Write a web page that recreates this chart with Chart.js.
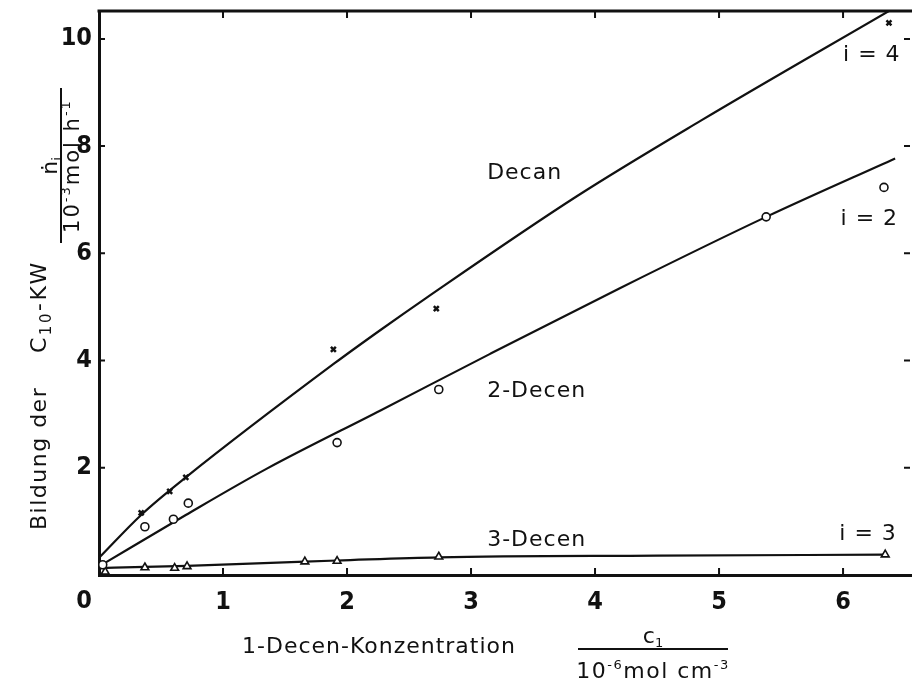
<!DOCTYPE html>
<html>
<head>
<meta charset="utf-8">
<script src="https://cdn.jsdelivr.net/npm/chart.js@4.4.1/dist/chart.umd.min.js"></script>
<style>
  html, body { margin: 0; padding: 0; background: #fff; }
</style>
</head>
<body>
<canvas id="chart" width="912" height="683"></canvas>
<script>
// measured points (x: 1-decene concentration, y: formation rate)
const decanX = [0.34, 0.57, 0.70, 1.89, 2.72, 6.37];
const decanY = [1.16, 1.56, 1.82, 4.21, 4.97, 10.3];
const decen2X = [0.03, 0.37, 0.60, 0.72, 1.92, 2.74, 5.38, 6.33];
const decen2Y = [0.19, 0.90, 1.04, 1.34, 2.47, 3.46, 6.68, 7.23];
const decen3X = [0.05, 0.37, 0.61, 0.71, 1.66, 1.92, 2.74, 6.34];
const decen3Y = [0.06, 0.14, 0.13, 0.16, 0.25, 0.26, 0.34, 0.38];

// hand-drawn fit curves
const decanFitX = [0, 0.34, 0.7, 1.9, 2.27, 2.64, 3.85, 4.85, 6.4];
const decanFitY = [0.32, 1.12, 1.82, 3.95, 4.57, 5.17, 7.06, 8.47, 10.56];
const decen2FitX = [0, 0.7, 1.35, 2.27, 3.15, 4.2, 5.38, 6.42];
const decen2FitY = [0.16, 1.12, 1.98, 3.07, 4.12, 5.35, 6.68, 7.77];
const decen3FitX = [0, 0.37, 0.71, 1.66, 1.92, 2.74, 4.5, 6.34];
const decen3FitY = [0.13, 0.15, 0.17, 0.25, 0.27, 0.33, 0.36, 0.38];

const xTicks = [1, 2, 3, 4, 5, 6];
const yTicks = [2, 4, 6, 8, 10];

const curveNames = ['Decan', '2-Decen', '3-Decen'];
const curveNameAt = [[3.13, 7.49], [3.13, 3.43], [3.13, 0.65]];
const indexNames = ['i = 4', 'i = 2', 'i = 3'];
const indexNameAt = [[6.0, 9.69], [5.98, 6.63], [5.97, 0.76]];

const ink = '#111';
const narrow = '"Liberation Sans Narrow", "DejaVu Sans Condensed", "DejaVu Sans", sans-serif';
const plain = '"DejaVu Sans", sans-serif';

const pts = (xs, ys) => xs.map((x, i) => ({ x, y: ys[i] }));

function marks(data, style, radius, width) {
  return {
    type: 'scatter', data, showLine: false,
    pointStyle: style, pointRadius: radius, borderWidth: width,
    borderColor: ink, backgroundColor: '#fff'
  };
}
function fit(data) {
  return {
    type: 'line', data, borderColor: ink, borderWidth: 2.2,
    pointRadius: 0, cubicInterpolationMode: 'monotone', fill: false
  };
}

// draws text runs (with sub/superscript offsets) from u along the baseline v
function runs(ctx, list, u, v) {
  list.forEach(r => {
    ctx.font = r.size + 'px ' + plain;
    ctx.fillText(r.t, u, v + (r.dv || 0));
    u += ctx.measureText(r.t).width;
  });
  return u;
}
function runsWidth(ctx, list) {
  let w = 0;
  list.forEach(r => { ctx.font = r.size + 'px ' + plain; w += ctx.measureText(r.t).width; });
  return w;
}

const decor = {
  id: 'decor',
  afterDraw(chart) {
    const { ctx, chartArea: a, scales: { x, y } } = chart;
    ctx.save();
    ctx.strokeStyle = ink;
    ctx.fillStyle = ink;

    // top frame line
    ctx.lineWidth = 3;
    ctx.beginPath();
    ctx.moveTo(a.left - 1.5, a.top);
    ctx.lineTo(a.right, a.top);
    ctx.stroke();

    // inward tick marks
    ctx.lineWidth = 2;
    ctx.beginPath();
    xTicks.forEach(v => {
      const px = x.getPixelForValue(v);
      ctx.moveTo(px, a.bottom); ctx.lineTo(px, a.bottom - 7);
      ctx.moveTo(px, a.top); ctx.lineTo(px, a.top + 7);
    });
    yTicks.forEach(v => {
      const py = y.getPixelForValue(v);
      ctx.moveTo(a.left, py); ctx.lineTo(a.left + 6, py);
      ctx.moveTo(a.right - 2, py); ctx.lineTo(a.right - 8, py);
    });
    ctx.stroke();

    // shared zero at the corner
    ctx.font = 'bold 25px ' + narrow;
    ctx.textAlign = 'center';
    ctx.textBaseline = 'middle';
    ctx.fillText('0', x.getPixelForValue(0) - 15, a.bottom + 26);

    // curve labels
    ctx.letterSpacing = '1px';
    ctx.font = '22px ' + plain;
    ctx.textAlign = 'left';
    curveNames.forEach((t, i) => {
      ctx.fillText(t, x.getPixelForValue(curveNameAt[i][0]), y.getPixelForValue(curveNameAt[i][1]));
    });
    indexNames.forEach((t, i) => {
      ctx.fillText(t, x.getPixelForValue(indexNameAt[i][0]), y.getPixelForValue(indexNameAt[i][1]));
    });

    // x axis title
    ctx.textBaseline = 'alphabetic';
    ctx.fillText('1-Decen-Konzentration', 242, 653);
    const fx0 = 578, fx1 = 728, fxc = (fx0 + fx1) / 2;
    ctx.lineWidth = 2;
    ctx.beginPath(); ctx.moveTo(fx0, 649); ctx.lineTo(fx1, 649); ctx.stroke();
    ctx.letterSpacing = '0px';
    const num = [{ t: 'c', size: 22 }, { t: '1', size: 13, dv: 4 }];
    runs(ctx, num, fxc - runsWidth(ctx, num) / 2, 643);
    ctx.letterSpacing = '1.5px';
    const den = [{ t: '10', size: 22 }, { t: '-6', size: 13, dv: -9 }, { t: 'mol cm', size: 22 }, { t: '-3', size: 13, dv: -9 }];
    runs(ctx, den, fxc - runsWidth(ctx, den) / 2, 678);

    // y axis title, reading upwards
    ctx.save();
    ctx.rotate(-Math.PI / 2);
    // in the rotated frame u = -pageY, v = pageX
    ctx.letterSpacing = '1.5px';
    runs(ctx, [{ t: 'Bildung der', size: 22 }], -530, 46);
    ctx.letterSpacing = '2.5px';
    runs(ctx, [{ t: 'C', size: 22 }, { t: '10', size: 15, dv: 5 }, { t: '-KW', size: 22 }], -353, 46);
    ctx.letterSpacing = '0px';
    const yc = 166;
    const n = [{ t: 'ṅ', size: 22 }, { t: 'i', size: 13, dv: 4 }];
    runs(ctx, n, -yc - runsWidth(ctx, n) / 2, 57);
    ctx.lineWidth = 2;
    ctx.beginPath(); ctx.moveTo(-243, 61); ctx.lineTo(-88, 61); ctx.stroke();
    ctx.letterSpacing = '2px';
    const d = [{ t: '10', size: 21 }, { t: '-3', size: 13, dv: -9 }, { t: 'mol h', size: 21 }, { t: '-1', size: 13, dv: -9 }];
    runs(ctx, d, -yc - runsWidth(ctx, d) / 2, 79);
    ctx.restore();

    ctx.restore();
  }
};

new Chart(document.getElementById('chart'), {
  data: {
    datasets: [
      marks(pts(decanX, decanY), 'crossRot', 3.5, 2.5),
      marks(pts(decen2X, decen2Y), 'circle', 4, 1.6),
      marks(pts(decen3X, decen3Y), 'triangle', 4.5, 1.6),
      fit(pts(decanFitX, decanFitY)),
      fit(pts(decen2FitX, decen2FitY)),
      fit(pts(decen3FitX, decen3FitY))
    ]
  },
  options: {
    responsive: false,
    animation: false,
    layout: { autoPadding: false, padding: { top: 11, right: 0, left: 0, bottom: 0 } },
    plugins: { legend: { display: false }, tooltip: { enabled: false } },
    scales: {
      x: {
        type: 'linear', min: 0, max: 6.556,
        afterBuildTicks: s => { s.ticks = xTicks.map(v => ({ value: v })); },
        afterFit: s => { s.height = 108; s.paddingLeft = 0; s.paddingRight = 0; },
        ticks: { color: ink, font: { family: narrow, size: 25, weight: 'bold' }, padding: 12, maxRotation: 0 },
        grid: { display: false, drawTicks: false },
        border: { display: true, color: ink, width: 3 }
      },
      y: {
        type: 'linear', min: 0, max: 10.52,
        afterBuildTicks: s => { s.ticks = yTicks.map(v => ({ value: v })); },
        afterFit: s => { s.width = 99; s.paddingTop = 0; s.paddingBottom = 0; },
        ticks: { color: ink, font: { family: narrow, size: 25, weight: 'bold' }, padding: 7 },
        grid: { display: false, drawTicks: false },
        border: { display: true, color: ink, width: 3 }
      }
    }
  },
  plugins: [decor]
});
</script>
</body>
</html>
